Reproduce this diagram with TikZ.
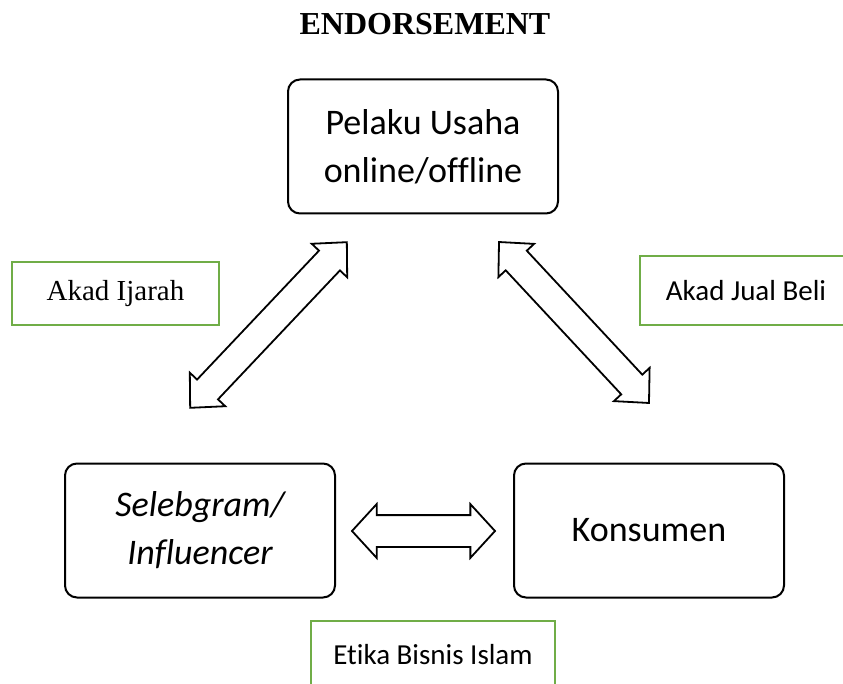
\documentclass[tikz,border=0pt]{standalone}
\usepackage{fontspec}
\setmainfont{Carlito}[Ligatures=NoCommon]
\newfontfamily\timesfont{Liberation Serif}
\usetikzlibrary{positioning,shapes.arrows}
\definecolor{tagline}{RGB}{112,173,71}
\begin{document}
\begin{tikzpicture}[x=1pt,y=-1pt,
box/.style={draw,line width=2pt,rounded corners=12pt,align=center,minimum width=270pt,minimum height=134pt,font=\fontsize{36}{48}\selectfont},
tag/.style={draw=tagline,line width=2.2pt,align=center,font=\fontsize{29}{35}\selectfont},
dblarr/.style={draw,line width=1.8pt,shape=double arrow,inner xsep=0pt,inner ysep=13.5pt,sloped,minimum width=0pt,double arrow head extend=10pt,double arrow tip angle=88}]
\useasboundingbox (0,0) rectangle (843,684);
\node[anchor=base,font=\timesfont\bfseries\fontsize{32}{36}\selectfont](title) at (425,35){ENDORSEMENT};
\node[box](pelaku) at (423,146.5){Pelaku Usaha\\online/offline};
\node[box](seleb) at (200,530.5){\itshape Selebgram/\\\itshape Influencer};
\node[box,right=177pt of seleb](kons){Konsumen};
\node[tag,minimum width=207pt,minimum height=63pt,font=\timesfont\fontsize{29}{35}\selectfont](ijarah) at (115.5,293.5){Akad Ijarah};
\node[tag,minimum width=212pt,minimum height=69pt](jualbeli) at (746,290.5){Akad Jual Beli};
\node[tag,minimum width=244pt,minimum height=68pt](etika) at (433,655){Etika Bisnis Islam};
\coordinate (lefttop) at (347,242);\coordinate (leftbot) at (190,408);
\coordinate (righttop) at (499,242);\coordinate (rightbot) at (649,403);
\coordinate (midleft) at (352,531);\coordinate (midright) at (495,531);
\path (leftbot)--node[dblarr,minimum height=228pt]{}(lefttop);
\path (righttop)--node[dblarr,minimum height=220pt]{}(rightbot);
\path (midleft)--node[dblarr,minimum height=143pt,inner ysep=15pt,double arrow head extend=11pt,double arrow tip angle=95]{}(midright);
\end{tikzpicture}
\end{document}
